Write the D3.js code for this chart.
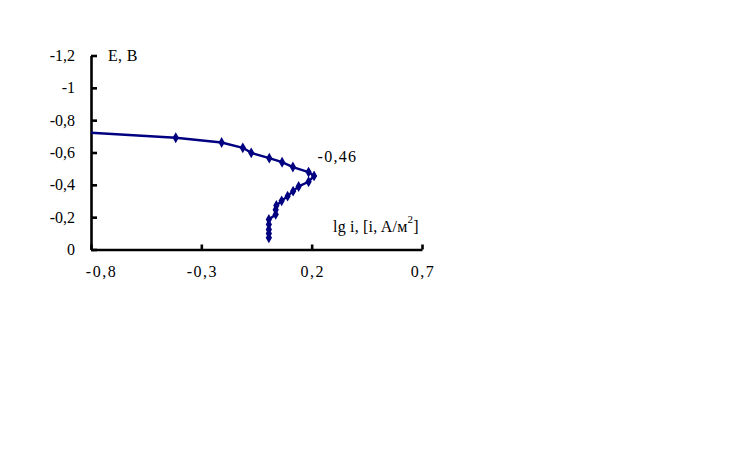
<!DOCTYPE html>
<html>
<head>
<meta charset="utf-8">
<script src="https://cdn.jsdelivr.net/npm/d3@7"></script>
<style>
  html, body { margin: 0; padding: 0; background: #fff; }
  svg text { font-family: "Liberation Serif", "Times New Roman", serif; fill: #000; }
</style>
</head>
<body>
<svg id="chart" width="738" height="474"></svg>
<script>
// ---- data ----
const lgI = [-0.9, -0.416, -0.208, -0.112, -0.074, 0.008, 0.066, 0.115, 0.186, 0.211, 0.186, 0.141, 0.116, 0.091, 0.064, 0.040, 0.037, 0.037, 0.006, 0.006, 0.006, 0.006, 0.006];
const E   = [-0.73, -0.691, -0.662, -0.629, -0.598, -0.565, -0.540, -0.510, -0.479, -0.455, -0.419, -0.390, -0.361, -0.330, -0.301, -0.272, -0.246, -0.217, -0.186, -0.155, -0.124, -0.099, -0.072];
const xTickValues = [-0.8, -0.3, 0.2, 0.7];
const xTickLabels = ["-0,8", "-0,3", "0,2", "0,7"];
const yTickValues = [0, -0.2, -0.4, -0.6, -0.8, -1, -1.2];
const yTickLabels = ["0", "-0,2", "-0,4", "-0,6", "-0,8", "-1", "-1,2"];
const peakLabel = "-0,46";
const peakIndex = 9;
const yTitle = "E, B";
const xTitle = "lg i, [i, A/м";
const xTitleSup = "2";

// ---- layout ----
const svg = d3.select("#chart");
const mLeft = 91, mRight = 422, mTop = 55.5, mBottom = 249.5;
const color = "#000080";
const fs = 16;

const x = d3.scaleLinear().domain([-0.8, 0.7]).range([mLeft, mRight]);
const y = d3.scaleLinear().domain([0, -1.2]).range([mBottom, mTop]);

svg.append("defs").append("clipPath").attr("id", "plotClip")
  .append("rect").attr("x", mLeft).attr("y", mTop - 10)
  .attr("width", mRight - mLeft + 10).attr("height", mBottom - mTop + 10);

// Y axis
const yAxis = d3.axisLeft(y)
  .tickValues(yTickValues)
  .tickFormat((d, i) => yTickLabels[i])
  .tickSizeInner(-6).tickSizeOuter(0).tickPadding(16);
const gy = svg.append("g").attr("transform", `translate(${mLeft},0)`).call(yAxis);
gy.select(".domain").attr("stroke", "#000").attr("stroke-width", 2.6);
gy.selectAll(".tick line").attr("stroke", "#000").attr("stroke-width", 2.6);
gy.selectAll(".tick text").attr("font-size", fs).attr("font-family", "Liberation Serif")
  .attr("dy", "0.32em");

// X axis
const xAxis = d3.axisBottom(x)
  .tickValues(xTickValues)
  .tickFormat((d, i) => xTickLabels[i])
  .tickSizeInner(-5).tickSizeOuter(0).tickPadding(16.5);
const gx = svg.append("g").attr("transform", `translate(0,${mBottom})`).call(xAxis);
gx.select(".domain").attr("stroke", "#000").attr("stroke-width", 2.6);
gx.selectAll(".tick line").attr("stroke", "#000").attr("stroke-width", 2.6);
gx.selectAll(".tick text").attr("font-size", fs).attr("font-family", "Liberation Serif")
  .style("letter-spacing", "1.5px")
  .attr("dx", (d, i) => i === 0 ? 10 : 0.5);

// Data line + markers
const pts = lgI.map((v, i) => ({ x: v, y: E[i] }));
const plot = svg.append("g").attr("clip-path", "url(#plotClip)");
plot.append("path")
  .datum(pts)
  .attr("fill", "none")
  .attr("stroke", color)
  .attr("stroke-width", 2.4)
  .attr("stroke-linejoin", "round")
  .attr("d", d3.line().x(d => x(d.x)).y(d => y(d.y)));
plot.selectAll("path.marker")
  .data(pts)
  .join("path")
  .attr("class", "marker")
  .attr("fill", color)
  .attr("transform", d => `translate(${x(d.x)},${y(d.y)})`)
  .attr("d", d3.symbol().type(d3.symbolDiamond).size(34));

// Titles / annotations
svg.append("text").attr("x", 108).attr("y", 60.7)
  .attr("font-size", fs).style("letter-spacing", "0.3px").text(yTitle);

svg.append("text")
  .attr("x", x(lgI[peakIndex]) + 3.5)
  .attr("y", y(E[peakIndex]) - 14)
  .attr("font-size", fs).style("letter-spacing", "1.3px").text(peakLabel);

const xt = svg.append("text").attr("x", 333).attr("y", 232)
  .attr("font-size", fs).style("letter-spacing", "0.2px");
xt.append("tspan").text(xTitle);
xt.append("tspan").attr("font-size", 11).attr("dy", -9).text(xTitleSup);
xt.append("tspan").attr("dy", 9).text("]");
</script>
</body>
</html>
